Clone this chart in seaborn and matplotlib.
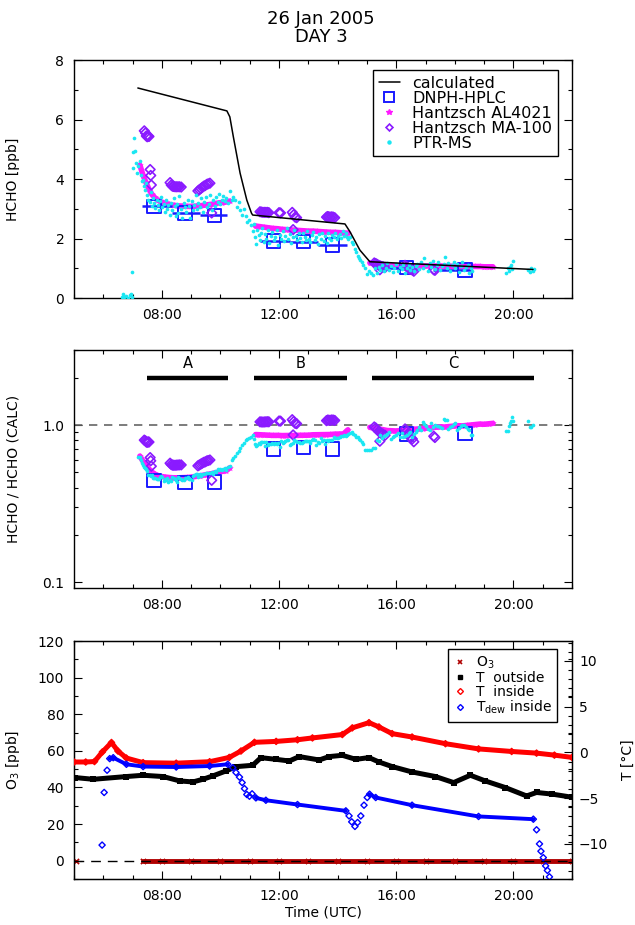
import numpy as np
import pandas as pd
import matplotlib
matplotlib.use("Agg")
import matplotlib.pyplot as plt
from matplotlib.lines import Line2D
from matplotlib.ticker import FixedLocator, MultipleLocator, LogLocator, NullFormatter
import seaborn as sns

# ---------------- data (time in decimal hours UTC) ----------------
# calculated HCHO [ppb]
calc_t = [7.18, 10.22, 10.32, 10.44, 10.67, 10.90, 11.06, 11.10, 14.25, 14.42, 14.76, 15.10, 20.67]
calc_y = [7.06, 6.29, 6.09, 5.42, 4.20, 3.29, 2.85, 2.79, 2.49, 2.23, 1.61, 1.22, 0.96]

# DNPH-HPLC cartridge samples
dnph_t = [7.73, 8.79, 9.81, 11.80, 12.83, 13.83, 16.35, 18.35]
dnph_y = [3.08, 2.86, 2.78, 1.92, 1.90, 1.78, 1.02, 0.94]
dnph_start = [7.31, 8.33, 9.30, 11.35, 12.37, 13.34, 15.44, 17.26]
dnph_end = [8.33, 9.30, 10.21, 12.37, 13.34, 14.31, 16.58, 18.57]

# Hantzsch AL4021
al_t = [7.25, 7.35, 7.45, 7.55, 7.65, 7.75, 7.85, 7.95, 8.10, 8.25, 8.40, 8.55,
        8.70, 8.85, 9.00, 9.15, 9.30, 9.45, 9.60, 9.75, 9.90, 10.05, 10.20, 10.32,
        11.20, 11.35, 11.50, 11.65, 11.80, 11.95, 12.10, 12.25, 12.40, 12.55, 12.70,
        12.85, 13.00, 13.15, 13.30, 13.45, 13.60, 13.75, 13.90, 14.05, 14.20, 14.35,
        15.10, 15.25, 15.40, 15.55, 15.70, 15.85, 16.00, 16.15, 16.30, 16.45, 16.60,
        16.75, 16.90, 17.05, 17.20, 17.35, 17.50, 17.65, 17.80, 17.95, 18.10, 18.25,
        18.40, 18.55, 18.70, 18.85, 19.00, 19.15, 19.30]
al_y = [4.47, 4.15, 3.90, 3.68, 3.50, 3.38, 3.30, 3.24, 3.19, 3.15, 3.12, 3.10,
        3.09, 3.08, 3.08, 3.09, 3.10, 3.12, 3.14, 3.16, 3.19, 3.21, 3.23, 3.26,
        2.42, 2.40, 2.38, 2.36, 2.34, 2.33, 2.31, 2.30, 2.29, 2.28, 2.27,
        2.26, 2.25, 2.25, 2.24, 2.23, 2.22, 2.21, 2.21, 2.20, 2.19, 2.18,
        1.18, 1.16, 1.14, 1.12, 1.10, 1.09, 1.08, 1.08, 1.08, 1.08, 1.08,
        1.08, 1.08, 1.08, 1.08, 1.08, 1.08, 1.07, 1.07, 1.07, 1.07, 1.06,
        1.06, 1.06, 1.06, 1.06, 1.05, 1.05, 1.05]

# Hantzsch MA-100
ma_t = [7.40, 7.44, 7.47, 7.50, 7.53, 7.56, 7.60, 7.62, 7.64,
        8.28, 8.32, 8.36, 8.40, 8.45, 8.50, 8.55, 8.60, 8.66,
        9.23, 9.28, 9.33, 9.38, 9.43, 9.48, 9.53, 9.58, 9.64, 9.70,
        11.35, 11.40, 11.45, 11.50, 11.55, 11.60, 11.65, 12.00, 12.05, 12.45, 12.48, 12.50, 12.55, 12.60,
        13.62, 13.66, 13.70, 13.75, 13.80, 13.85, 13.90,
        15.25, 15.30, 15.35, 15.40, 15.44, 15.45, 15.50, 15.55, 15.62,
        16.30, 16.35, 16.40, 16.45, 16.50, 16.55, 16.60, 17.28, 17.32]
ma_y = [5.62, 5.55, 5.45, 5.42, 5.45, 5.43, 4.32, 4.12, 3.80,
        3.88, 3.80, 3.76, 3.75, 3.74, 3.74, 3.74, 3.74, 3.73,
        3.60, 3.64, 3.68, 3.72, 3.76, 3.78, 3.82, 3.84, 3.86, 2.86,
        2.90, 2.89, 2.88, 2.88, 2.88, 2.88, 2.87, 2.87, 2.86, 2.88, 2.30, 2.80, 2.72, 2.70,
        2.72, 2.74, 2.73, 2.72, 2.73, 2.72, 2.70,
        1.18, 1.16, 1.13, 1.10, 0.95, 1.08, 1.06, 1.05, 1.03,
        1.10, 1.06, 1.02, 0.98, 0.96, 0.94, 0.90, 0.95, 0.93]

# PTR-MS
ptr_t = [6.63, 6.68, 6.72, 6.78, 6.85, 6.90, 6.94, 6.97, 6.99,
         7.00, 7.02, 7.06, 7.08, 7.12, 7.16, 7.20, 7.25, 7.28, 7.32, 7.37, 7.40, 7.42, 7.46,
         7.50, 7.54, 7.58, 7.62, 7.66, 7.70, 7.74, 7.78, 7.82, 7.86, 7.90, 7.94, 7.98,
         8.02, 8.06, 8.10, 8.14, 8.18, 8.22, 8.27, 8.31, 8.35, 8.40, 8.44, 8.48, 8.52,
         8.56, 8.60, 8.65, 8.70, 8.74, 8.78, 8.83, 8.88, 8.92, 8.97,
         9.02, 9.06, 9.10, 9.15, 9.20, 9.25, 9.30, 9.35, 9.40, 9.45, 9.50, 9.55, 9.60,
         9.65, 9.70, 9.75, 9.80, 9.85, 9.90, 9.95,
         10.00, 10.05, 10.10, 10.15, 10.20, 10.26, 10.32, 10.38, 10.44, 10.50, 10.56,
         10.62, 10.68, 10.74, 10.80, 10.86, 10.92, 10.98, 11.04, 11.10, 11.14,
         11.18, 11.22, 11.26, 11.30, 11.34, 11.38, 11.43, 11.48, 11.52, 11.57, 11.62,
         11.67, 11.72, 11.77, 11.82, 11.87, 11.92, 11.97, 12.02, 12.07, 12.12, 12.17,
         12.22, 12.27, 12.32, 12.37, 12.42, 12.47, 12.52, 12.57, 12.62, 12.67, 12.72,
         12.77, 12.82, 12.87, 12.92, 12.97, 13.02, 13.07, 13.12, 13.17, 13.22, 13.27,
         13.32, 13.37, 13.42, 13.47, 13.52, 13.57, 13.62, 13.67, 13.72, 13.77, 13.82,
         13.87, 13.92, 13.97, 14.02, 14.07, 14.12, 14.17, 14.22, 14.27, 14.32, 14.37,
         14.42, 14.48, 14.53, 14.59, 14.64, 14.70, 14.74, 14.78, 14.83, 14.88, 14.94,
         15.01, 15.08, 15.14, 15.21,
         15.27, 15.33, 15.40, 15.46, 15.52, 15.58, 15.64, 15.70, 15.76, 15.82, 15.88,
         15.94, 16.00, 16.06, 16.12, 16.18, 16.24, 16.30, 16.36, 16.42, 16.48, 16.54,
         16.60, 16.66, 16.72, 16.78, 16.84, 16.90, 16.96, 17.02, 17.08, 17.14, 17.20,
         17.26, 17.32, 17.38, 17.44, 17.50, 17.56, 17.62, 17.66, 17.72, 17.78, 17.84,
         17.90, 17.96, 18.02, 18.08, 18.14, 18.20, 18.26, 18.32, 18.38, 18.44, 18.50,
         18.56, 18.60,
         19.76, 19.80, 19.84, 19.88, 19.92, 19.96, 20.00,
         20.50, 20.55, 20.60, 20.66, 20.70]
ptr_y = [0.05, 0.12, 0.02, 0.08, 0.00, 0.10, 0.14, 0.04, 0.89,
         4.36, 4.92, 5.37, 4.95, 4.55, 4.20, 4.45, 4.59, 4.13, 3.95, 3.97, 3.75, 3.63, 3.85,
         3.46, 3.30, 3.24, 3.55, 3.10, 3.35, 3.18, 3.02, 3.30, 3.12, 2.95, 3.25, 3.40,
         3.05, 3.15, 2.90, 3.28, 3.00, 3.12, 2.80, 3.20, 2.95, 3.35, 3.08, 2.75, 3.15,
         2.85, 3.42, 3.00, 2.70, 3.20, 3.05, 2.88, 3.30, 3.10, 2.68,
         3.25, 2.95, 3.12, 3.48, 2.98, 3.18, 3.05, 3.35, 2.90, 3.22, 3.40, 3.05, 3.15,
         3.45, 2.95, 3.30, 3.10, 3.38, 3.22, 3.50,
         3.15, 3.30, 3.42, 3.25, 3.35, 3.18, 3.60, 3.28, 3.40, 3.30, 3.05,
         3.22, 2.95, 2.80, 3.00, 2.75, 2.55, 2.62, 2.45, 2.25, 2.50,
         2.05, 1.80, 2.30, 2.12, 1.95, 2.20, 2.35, 1.90, 2.15, 2.00, 2.28,
         1.85, 2.10, 2.22, 1.95, 2.05, 2.30, 1.78, 2.12, 2.00, 2.25, 1.92,
         2.08, 2.35, 1.98, 2.15, 1.85, 2.05, 2.28, 2.10, 1.95, 2.18, 2.02,
         1.88, 2.20, 2.06, 1.95, 2.25, 2.00, 1.90, 2.12, 2.22, 1.96, 2.05,
         1.82, 2.15, 2.00, 2.20, 1.92, 2.08, 1.85, 2.18, 2.02, 1.95, 2.12,
         2.05, 2.20, 1.98, 2.10, 2.15, 2.02, 2.25, 2.08, 2.18, 2.05, 1.98,
         2.05, 1.90, 1.80, 1.65, 1.55, 1.42, 1.35, 1.28, 1.20, 1.12, 1.02,
         0.80, 0.92, 0.85, 0.76,
         1.00, 0.85, 1.05, 0.95, 1.12, 0.90, 1.02, 1.18, 0.95, 1.08, 0.88,
         1.00, 1.15, 0.92, 1.05, 0.98, 1.10, 0.85, 1.02, 1.12, 0.95, 1.05,
         0.90, 1.08, 1.15, 0.96, 1.22, 1.02, 1.33, 1.10, 0.92, 1.18, 1.05,
         1.25, 0.98, 1.12, 1.20, 0.95, 1.08, 1.15, 1.37, 1.02, 1.18, 0.92,
         1.10, 1.22, 1.00, 1.15, 0.88, 1.08, 1.20, 0.95, 1.05, 1.12, 0.85,
         1.00, 0.90,
         0.85, 1.00, 0.92, 1.05, 1.12, 0.98, 1.23,
         0.95, 0.88, 1.00, 0.92, 0.98]

# period bars in ratio panel
seg_names = ["A", "B", "C"]
seg_start = [7.48, 11.15, 15.18]
seg_end = [10.27, 14.31, 20.70]

# bottom panel: ozone [ppb] and temperatures [degC]
o3_t = [5.07, 7.34, 8.0, 9.0, 10.0, 11.0, 12.0, 13.0, 14.0, 15.0, 16.0, 17.0,
        18.0, 19.0, 20.0, 21.0, 22.0]
o3_v = [0.0, 0.0, 0.0, 0.0, 0.0, 0.0, 0.0, 0.0, 0.0, 0.0, 0.0, 0.0,
        0.0, 0.0, 0.0, 0.0, 0.0]

tout_t = [5.03, 5.66, 6.79, 7.36, 8.04, 8.61, 9.06, 9.40, 9.74, 10.19, 10.53,
          11.10, 11.38, 11.90, 12.35, 12.69, 13.37, 13.71, 14.16, 14.62, 15.07,
          15.41, 15.86, 16.54, 17.34, 17.96, 18.53, 19.04, 19.72, 20.45, 20.79,
          21.30, 22.00]
tout_v = [-2.75, -2.94, -2.64, -2.50, -2.64, -3.12, -3.23, -2.94, -2.57, -2.03, -1.56,
          -1.41, -0.58, -0.76, -0.94, -0.46, -0.83, -0.46, -0.32, -0.76, -0.57,
          -1.05, -1.55, -2.14, -2.64, -3.30, -2.50, -3.12, -3.84, -4.76, -4.38,
          -4.55, -4.90]

tin_t = [5.00, 5.40, 5.70, 5.97, 6.28, 6.50, 6.79, 7.36, 8.49, 9.63, 10.30, 10.70,
         11.16, 11.90, 12.63, 13.14, 14.16, 14.50, 15.07, 15.41, 15.86, 16.54, 17.68,
         18.81, 19.94, 20.79, 21.40, 22.00]
tin_v = [-1.05, -1.05, -1.00, 0.05, 1.08, 0.15, -0.62, -1.12, -1.18, -1.02, -0.55, 0.15,
         1.10, 1.20, 1.38, 1.58, 1.95, 2.68, 3.25, 2.78, 2.05, 1.68, 0.95,
         0.38, 0.10, -0.08, -0.30, -0.55]

tdew_t = [5.96, 6.03, 6.13, 6.22, 6.34, 6.79, 7.36, 8.49, 9.63, 10.25, 10.42, 10.53,
          10.65, 10.74, 10.82, 10.90, 10.99, 11.08, 11.21, 11.55, 12.63, 14.28, 14.39,
          14.48, 14.59, 14.68, 14.79, 14.90, 15.01, 15.09, 15.30, 16.54, 18.81, 20.68,
          20.79, 20.89, 20.94, 21.02, 21.10, 21.16, 21.23]
tdew_v = [-10.13, -4.38, -1.95, -0.68, -0.58, -1.30, -1.55, -1.60, -1.49, -1.30, -1.67, -2.20,
          -2.70, -3.30, -3.96, -4.60, -4.79, -4.53, -4.97, -5.23, -5.70, -6.39, -6.94,
          -7.59, -8.09, -7.66, -6.94, -5.77, -4.93, -4.57, -4.93, -5.77, -7.00, -7.30,
          -8.46, -10.0, -10.8, -11.5, -12.4, -12.9, -13.6]
# stretches where the dew point was logged densely (drawn as a band)
tdew_dense = [(6.22, 10.25), (11.21, 14.28), (15.09, 20.68)]

hour_ticks = [8, 12, 16, 20]
hour_labels = ["08:00", "12:00", "16:00", "20:00"]

# colours
c_dnph = "#1a1aff"
c_al = "#ff1aff"
c_ma = "#8a1aff"
c_ptr = "#1ae6f2"
c_o3 = "#b00000"
c_tin = "#ff0000"
c_dew = "#0000ff"


def runs(t, v, gap):
    t = np.asarray(t, float)
    v = np.asarray(v, float)
    cut = np.where(np.diff(t) > gap)[0] + 1
    return zip(np.split(t, cut), np.split(v, cut))


def time_axis(ax):
    ax.set_xlim(5, 22)
    ax.xaxis.set_major_locator(FixedLocator(hour_ticks))
    ax.xaxis.set_minor_locator(MultipleLocator(1))
    ax.set_xticklabels(hour_labels)
    ax.tick_params(which="both", direction="in", top=True, right=True, width=0.8)
    ax.tick_params(which="major", length=6, labelsize=10, pad=7)
    ax.tick_params(which="minor", length=3)
    for s in ax.spines.values():
        s.set_linewidth(1.0)
        s.set_color("black")


sns.set_style("ticks")
plt.rcParams["font.family"] = ["DejaVu Sans"]
plt.rcParams.update({"text.color": "black", "axes.labelcolor": "black",
                     "xtick.color": "black", "ytick.color": "black",
                     "axes.edgecolor": "black"})

fig = plt.figure(figsize=(6.35, 9.25), dpi=100)
ax1 = fig.add_axes([0.1165, 0.6778, 0.7843, 0.2573])
ax2 = fig.add_axes([0.1165, 0.3643, 0.7843, 0.2573])
ax3 = fig.add_axes([0.1165, 0.0497, 0.7843, 0.2573])
ax3r = ax3.twinx()

fig.text(0.506, 0.979, "26 Jan 2005", ha="center", va="center", fontsize=13)
fig.text(0.506, 0.960, "DAY 3", ha="center", va="center", fontsize=13)

# ---------------- top panel: HCHO ----------------
sns.lineplot(x=calc_t, y=calc_y, ax=ax1, color="black", lw=1.1, sort=False,
             estimator=None, legend=False, zorder=5)
ax1.hlines(dnph_y, dnph_start, dnph_end, color=c_dnph, lw=1.8, zorder=3)
sns.scatterplot(x=dnph_t, y=dnph_y, ax=ax1, marker="s", s=90, facecolors="none",
                edgecolor=c_dnph, linewidth=1.4, legend=False, zorder=3)
for tt, yy in runs(al_t, al_y, 0.5):
    sns.lineplot(x=tt, y=yy, ax=ax1, color=c_al, lw=4, sort=False, estimator=None,
                 legend=False, zorder=2)
sns.scatterplot(x=al_t, y=al_y, ax=ax1, marker="*", s=25, color=c_al, linewidth=0,
                legend=False, zorder=2)
sns.scatterplot(x=ma_t, y=ma_y, ax=ax1, marker="D", s=24, facecolors="none",
                edgecolor=c_ma, linewidth=1.2, legend=False, zorder=4)
sns.scatterplot(x=ptr_t, y=ptr_y, ax=ax1, marker="o", s=7, color=c_ptr, linewidth=0,
                legend=False, zorder=4)

time_axis(ax1)
ax1.set_ylim(0, 8)
ax1.yaxis.set_major_locator(MultipleLocator(2))
ax1.yaxis.set_minor_locator(MultipleLocator(1))
ax1.set_ylabel("HCHO [ppb]", fontsize=10)
ax1.yaxis.set_label_coords(-0.108, 0.5)
ax1.set_xlabel("")

h1 = [Line2D([], [], color="black", lw=1.1),
      Line2D([], [], ls="none", marker="s", ms=7, mfc="none", mec=c_dnph, mew=1.4),
      Line2D([], [], ls="none", marker="*", ms=4, color=c_al),
      Line2D([], [], ls="none", marker="D", ms=3.5, mfc="none", mec=c_ma, mew=1.2),
      Line2D([], [], ls="none", marker="o", ms=2.2, color=c_ptr)]
lab1 = ["calculated", "DNPH-HPLC", "Hantzsch AL4021", "Hantzsch MA-100", "PTR-MS"]
leg1 = ax1.legend(h1, lab1, loc="upper right", bbox_to_anchor=(0.972, 0.958),
                  borderaxespad=0, fontsize=11.5, frameon=True, fancybox=False,
                  edgecolor="black", framealpha=1, handlelength=1.3,
                  handletextpad=0.8, labelspacing=0.0, borderpad=0.35)
leg1.get_frame().set_linewidth(1.0)

# ---------------- middle panel: ratio to calculated ----------------
def ratio(t, y, smooth=1):
    t = np.asarray(t, float)
    y = pd.Series(y, dtype=float).rolling(smooth, center=True, min_periods=1).mean().to_numpy()
    ok = (t >= calc_t[0]) & (t <= calc_t[-1])
    return t[ok], y[ok] / np.interp(t[ok], calc_t, calc_y)


ax2.axhline(1.0, color="0.4", lw=1.2, ls=(0, (5, 4)), zorder=1)
rt, rv = ratio(dnph_t, dnph_y)
sns.scatterplot(x=rt, y=rv, ax=ax2, marker="s", s=90, facecolors="none",
                edgecolor=c_dnph, linewidth=1.4, legend=False, zorder=3)
rt, rv = ratio(al_t, al_y)
for tt, yy in runs(rt, rv, 0.5):
    sns.lineplot(x=tt, y=yy, ax=ax2, color=c_al, lw=4, sort=False, estimator=None,
                 legend=False, zorder=2)
sns.scatterplot(x=rt, y=rv, ax=ax2, marker="*", s=25, color=c_al, linewidth=0,
                legend=False, zorder=2)
rt, rv = ratio(ma_t, ma_y)
sns.scatterplot(x=rt, y=rv, ax=ax2, marker="D", s=24, facecolors="none",
                edgecolor=c_ma, linewidth=1.2, legend=False, zorder=4)
# PTR-MS ratio uses a 3-point running mean
rt, rv = ratio(ptr_t, ptr_y, smooth=3)
sns.scatterplot(x=rt, y=rv, ax=ax2, marker="o", s=7, color=c_ptr, linewidth=0,
                legend=False, zorder=4)

ax2.set_yscale("log")
ax2.set_ylim(0.092, 3.0)
ax2.hlines([2.0] * 3, seg_start, seg_end, color="black", lw=3.2, zorder=5)
for name, a, b in zip(seg_names, seg_start, seg_end):
    ax2.text((a + b) / 2, 2.45, name, ha="center", va="center", fontsize=10.5)

time_axis(ax2)
ax2.yaxis.set_major_locator(FixedLocator([0.1, 1.0]))
ax2.set_yticklabels(["0.1", "1.0"])
ax2.yaxis.set_minor_locator(LogLocator(base=10, subs=np.arange(2, 10)))
ax2.yaxis.set_minor_formatter(NullFormatter())
ax2.set_ylabel("HCHO / HCHO (CALC)", fontsize=10)
ax2.yaxis.set_label_coords(-0.108, 0.5)
ax2.set_xlabel("")

# ---------------- bottom panel: O3 and temperatures ----------------
for tt, yy in runs(o3_t, o3_v, 1.5):
    if len(tt) > 1:
        sns.lineplot(x=tt, y=yy, ax=ax3, color=c_o3, lw=3.5, sort=False,
                     estimator=None, legend=False, zorder=2)
sns.scatterplot(x=o3_t, y=o3_v, ax=ax3, marker="x", s=14, color=c_o3, linewidth=1.2,
                legend=False, zorder=2)
ax3.axhline(0, color="black", lw=1.0, ls=(0, (7, 5)), zorder=3)

sns.lineplot(x=tout_t, y=tout_v, ax=ax3r, color="black", lw=3.6, sort=False,
             estimator=None, legend=False, zorder=3)
sns.scatterplot(x=tout_t, y=tout_v, ax=ax3r, marker="s", s=14, color="black",
                linewidth=0, legend=False, zorder=3)
sns.lineplot(x=tin_t, y=tin_v, ax=ax3r, color=c_tin, lw=3.6, sort=False,
             estimator=None, legend=False, zorder=3)
sns.scatterplot(x=tin_t, y=tin_v, ax=ax3r, marker="D", s=10, facecolors="none",
                edgecolor=c_tin, linewidth=1.0, legend=False, zorder=3)
dt = np.asarray(tdew_t)
dv = np.asarray(tdew_v)
for a, b in tdew_dense:
    m = (dt >= a) & (dt <= b)
    sns.lineplot(x=dt[m], y=dv[m], ax=ax3r, color=c_dew, lw=2.8, sort=False,
                 estimator=None, legend=False, zorder=4)
sns.scatterplot(x=dt, y=dv, ax=ax3r, marker="D", s=10, facecolors="none",
                edgecolor=c_dew, linewidth=1.0, legend=False, zorder=4)

time_axis(ax3)
ax3.tick_params(right=False)
ax3.set_ylim(-10, 120)
ax3.yaxis.set_major_locator(MultipleLocator(20))
ax3.yaxis.set_minor_locator(MultipleLocator(10))
ax3.set_ylabel("O$_3$ [ppb]", fontsize=10)
ax3.yaxis.set_label_coords(-0.104, 0.5)
ax3.set_xlabel("Time (UTC)", fontsize=10, labelpad=2)

ax3r.set_xlim(5, 22)
ax3r.set_ylim(-13.84, 12.17)
ax3r.yaxis.set_major_locator(MultipleLocator(5))
ax3r.yaxis.set_minor_locator(MultipleLocator(1))
ax3r.tick_params(which="both", direction="in", width=0.8, labelsize=10, pad=5)
ax3r.tick_params(which="major", length=6)
ax3r.tick_params(which="minor", length=3)
ax3r.set_ylabel("T [°C]", fontsize=10)
ax3r.yaxis.set_label_coords(1.098, 0.5)

h3 = [Line2D([], [], ls="none", marker="x", ms=3.5, mew=1.2, color=c_o3),
      Line2D([], [], ls="none", marker="s", ms=3.5, color="black"),
      Line2D([], [], ls="none", marker="D", ms=3, mfc="none", mec=c_tin, mew=1.0),
      Line2D([], [], ls="none", marker="D", ms=3, mfc="none", mec=c_dew, mew=1.0)]
lab3 = ["O$_3$", "T  outside", "T  inside", "T$_{\\rm dew}$ inside"]
leg3 = ax3r.legend(h3, lab3, loc="upper right", bbox_to_anchor=(0.970, 0.966),
                   borderaxespad=0, fontsize=10, frameon=True, fancybox=False,
                   edgecolor="black", framealpha=1, handlelength=1.0,
                   handletextpad=0.6, labelspacing=0.0, borderpad=0.4)
leg3.get_frame().set_linewidth(1.0)

fig.savefig("out.png", dpi=100)
